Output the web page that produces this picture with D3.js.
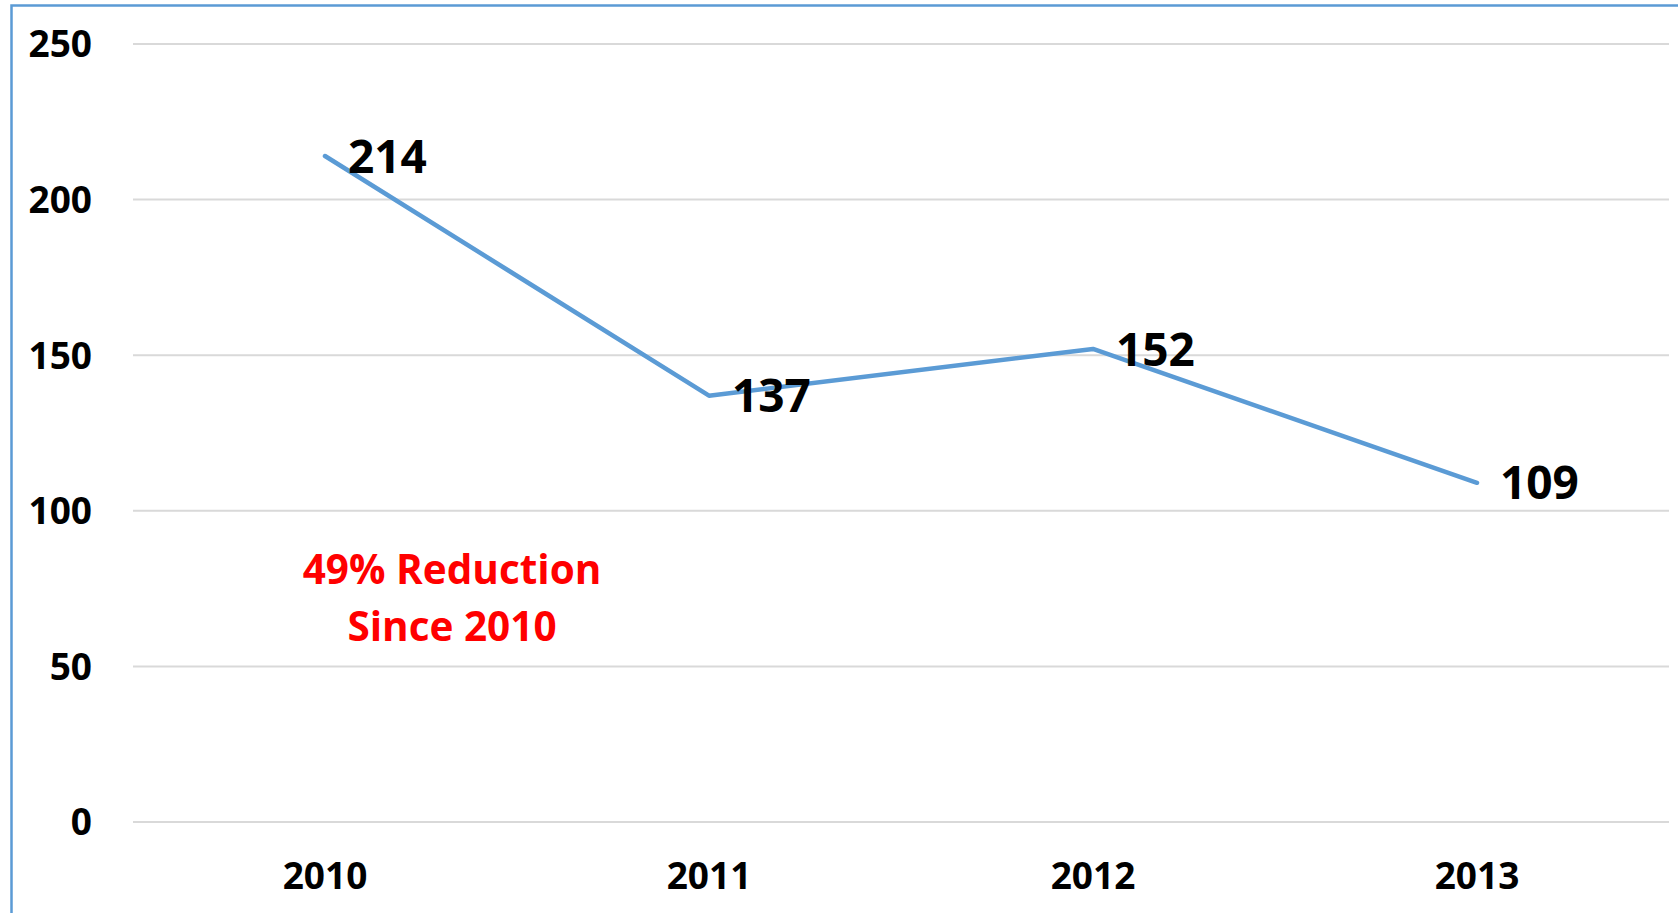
<!DOCTYPE html>
<html>
<head>
<meta charset="utf-8">
<script src="https://cdn.jsdelivr.net/npm/d3@7"></script>
<style>
html,body{margin:0;padding:0;background:#fff;overflow:hidden;}
svg{display:block;}
text{font-family:"Open Sans","Liberation Sans",sans-serif;font-weight:700;}
</style>
</head>
<body>
<svg id="chart" width="1678" height="913"></svg>
<script>
const categories = ["2010", "2011", "2012", "2013"];
const values = [214, 137, 152, 109];
const yTicks = [0, 50, 100, 150, 200, 250];
const annotationLines = ["49% Reduction", "Since 2010"];

const W = 1678, H = 913;
const svg = d3.select("#chart");

// outer chart-area border (extends beyond right/bottom)
svg.append("rect")
  .attr("x", 11.5).attr("y", 5.5)
  .attr("width", W + 20).attr("height", H + 20)
  .attr("fill", "none").attr("stroke", "#5B9BD5").attr("stroke-width", 2.5);

const plot = {left: 133, right: 1669, top: 44, bottom: 822};

const x = d3.scaleBand().domain(categories).range([plot.left, plot.right]).padding(0);
const y = d3.scaleLinear().domain([0, 250]).range([plot.bottom, plot.top]);

// gridlines
svg.append("g").selectAll("line").data(yTicks).join("line")
  .attr("x1", plot.left).attr("x2", plot.right)
  .attr("y1", d => y(d)).attr("y2", d => y(d))
  .attr("stroke", "#D9D9D9").attr("stroke-width", 2);

// y axis labels
const yAxis = d3.axisLeft(y).tickValues(yTicks).tickSize(0).tickPadding(0);
const gy = svg.append("g").attr("transform", `translate(${plot.left - 41},0)`).call(yAxis);
gy.select(".domain").remove();
gy.selectAll("text").attr("font-size", 37).attr("fill", "#000")
  .attr("font-family", "'Open Sans','Liberation Sans',sans-serif").attr("font-weight", 700)
  .attr("dy", "0.35em");

// x axis labels
const xAxis = d3.axisBottom(x).tickSize(0).tickPadding(0);
const gx = svg.append("g").attr("transform", `translate(0,${plot.bottom + 40})`).call(xAxis);
gx.select(".domain").remove();
gx.selectAll("text").attr("font-size", 37).attr("fill", "#000")
  .attr("font-family", "'Open Sans','Liberation Sans',sans-serif").attr("font-weight", 700)
  .attr("dy", "0.35em").attr("y", 14);

// line
const cx = d => x(d) + x.bandwidth() / 2;
const line = d3.line().x((d, i) => cx(categories[i])).y(d => y(d));
svg.append("path").datum(values)
  .attr("d", line)
  .attr("fill", "none").attr("stroke", "#5B9BD5").attr("stroke-width", 4.5)
  .attr("stroke-linejoin", "round").attr("stroke-linecap", "round");

// data labels
svg.append("g").selectAll("text").data(values).join("text")
  .attr("x", (d, i) => cx(categories[i]) + 23)
  .attr("y", d => y(d))
  .attr("dy", "0.36em")
  .attr("font-size", 46).attr("fill", "#000")
  .text(d => d);

// annotation
svg.append("g").selectAll("text").data(annotationLines).join("text")
  .attr("x", 452).attr("y", (d, i) => 584 + i * 57)
  .attr("text-anchor", "middle")
  .attr("font-size", 40.5).attr("fill", "#FF0000")
  .text(d => d);
</script>
</body>
</html>
